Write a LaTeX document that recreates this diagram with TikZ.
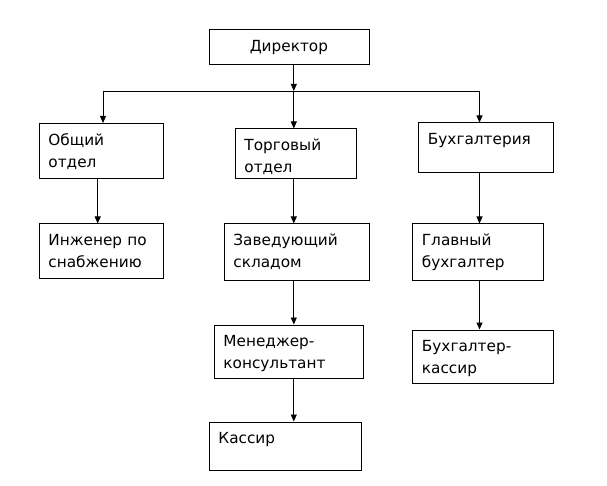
\documentclass[tikz,border=0pt]{standalone}
\usepackage{fontspec}
\setmainfont{DejaVu Sans}
\usetikzlibrary{arrows.meta}

\tikzset{
  box/.style={draw, line width=0.8pt, anchor=north west, align=left,
    inner xsep=9.5pt, inner ysep=0pt, text height=22pt,
    font=\fontsize{15.3}{22}\selectfont},
  link/.style={line width=0.8pt, -{Triangle[width=6pt,length=7pt]}}
}

\begin{document}
\begin{tikzpicture}[x=1pt, y=-1pt]
  \useasboundingbox (0,0) rectangle (607,486);
  % руководство
  \node[box, align=center, inner xsep=0pt, text width=160pt, text depth=13pt]
    (dir) at (208.5,29.5) {Директор};
  % отделы
  \node[box, text width=105pt, text depth=33pt] (obsh) at (38.5,123) {Общий\\отдел};
  \node[box, text width=102pt, text depth=28pt] (torg) at (234.5,128.5) {Торговый\\отдел};
  \node[box, text width=115.5pt, text depth=28pt] (buh) at (418,122.5) {Бухгалтерия};
  % сотрудники
  \node[box, text width=105pt, text depth=32pt] (inzh) at (38.5,223.5) {Инженер по\\снабжению};
  \node[box, text width=126pt, text depth=34.5pt] (zav) at (223.5,223.5) {Заведующий\\складом};
  \node[box, text width=112pt, text depth=34.5pt] (glav) at (412,223.5) {Главный\\бухгалтер};
  \node[box, text width=130.5pt, text depth=31pt] (men) at (213.5,324.5) {Менеджер-\\консультант};
  \node[box, text width=122pt, text depth=31pt] (buhkas) at (412,329.5) {Бухгалтер-\\кассир};
  \node[box, text width=133.5pt, text depth=26pt] (kas) at (208.5,421.5) {Кассир};
  % линии связи
  \coordinate (jl) at (103,91);
  \coordinate (jn) at (293.8,91);
  \coordinate (jr) at (479.5,91);
  \coordinate (cl) at (97.7,0);
  \draw[link] (dir.south -| jn) -- (jn);
  \draw[line width=0.8pt] (jl) -- (jr);
  \draw[link] (jl) -- (jl |- obsh.north);
  \draw[link] (jn) -- (jn |- torg.north);
  \draw[link] (jr) -- (jr |- buh.north);
  \draw[link] (obsh.south -| cl) -- (inzh.north -| cl);
  \draw[link] (torg.south -| jn) -- (zav.north -| jn);
  \draw[link] (zav.south -| jn) -- (men.north -| jn);
  \draw[link] (men.south -| jn) -- (kas.north -| jn);
  \draw[link] (buh.south -| jr) -- (glav.north -| jr);
  \draw[link] (glav.south -| jr) -- (buhkas.north -| jr);
\end{tikzpicture}
\end{document}
